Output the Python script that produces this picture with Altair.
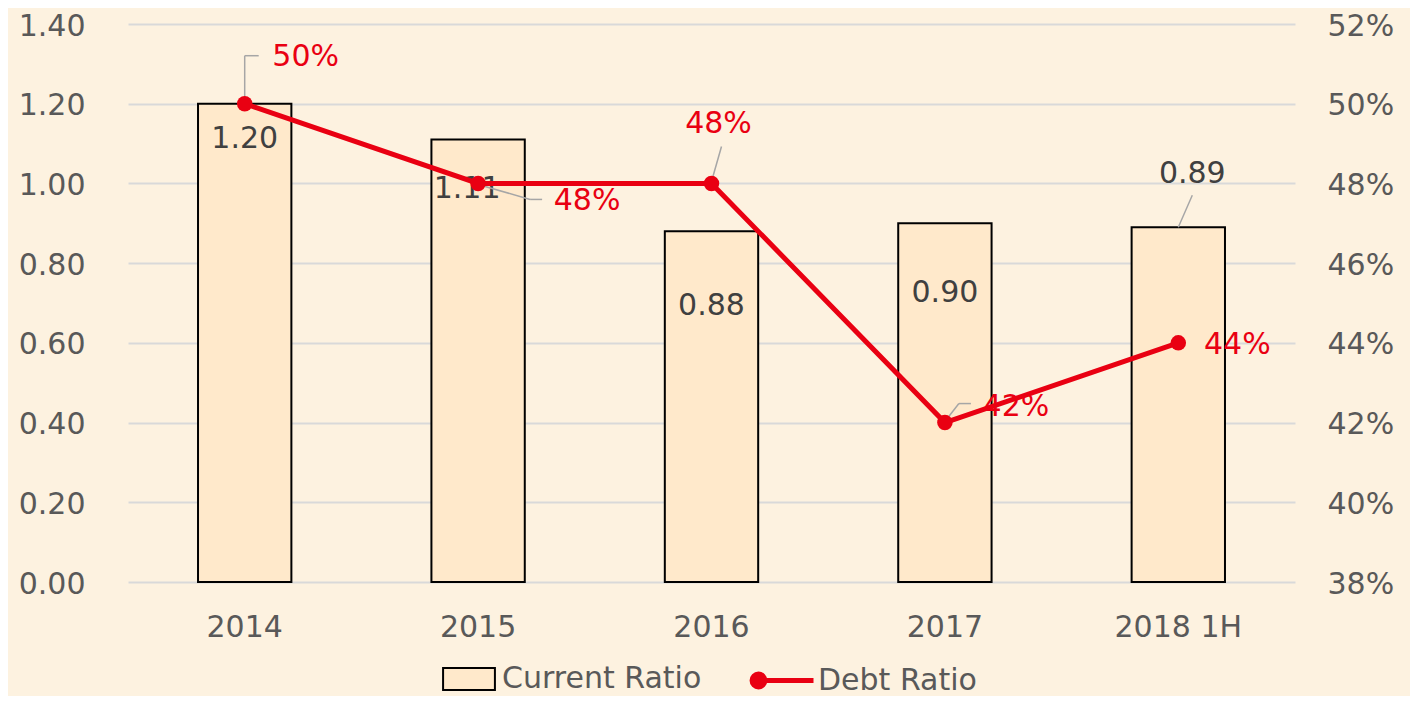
import altair as alt
import pandas as pd

# ---- data ----
categories = ["2014", "2015", "2016", "2017", "2018 1H"]
current_ratio = [1.20, 1.11, 0.88, 0.90, 0.89]
debt_ratio = [0.50, 0.48, 0.48, 0.42, 0.44]
current_labels = ["1.20", "1.11", "0.88", "0.90", "0.89"]
debt_labels = ["50%", "48%", "48%", "42%", "44%"]
left_ticks = [0.0, 0.2, 0.4, 0.6, 0.8, 1.0, 1.2, 1.4]
right_ticks = [0.38, 0.40, 0.42, 0.44, 0.46, 0.48, 0.50, 0.52]
series_names = ["Current Ratio", "Debt Ratio"]

df = pd.DataFrame({
    "cat": categories,
    "current": current_ratio,
    "debt": debt_ratio,
    "clabel": current_labels,
    "dlabel": debt_labels,
    "s_bar": series_names[0],
    "s_line": series_names[1],
})

FONT = "DejaVu Sans"
RED = "#E90012"
BAR_FILL = "#FFE9CB"
AXIS_GRAY = "#595959"
LABEL_GRAY = "#404040"
LEADER = "#A6A6A6"

base = alt.Chart(df)

x_enc = alt.X("cat:N", sort=categories,
              scale=alt.Scale(paddingInner=0.6, paddingOuter=0.3),
              axis=alt.Axis(title=None, labelAngle=0, labelFontSize=30, labelFont=FONT,
                            labelColor=AXIS_GRAY, ticks=False, tickSize=0, domain=False,
                            labelPadding=30, grid=False))
x2_enc = alt.X2("cat:N")

yl = alt.Y("current:Q", scale=alt.Scale(domain=[0, 1.4], nice=False, zero=True),
           axis=alt.Axis(title=None, values=left_ticks, format=".2f", labelFontSize=30,
                         labelFont=FONT, labelColor=AXIS_GRAY, ticks=False, tickSize=0,
                         domain=False, labelPadding=43, labelOffset=2, grid=True,
                         gridColor="#D9D9D9", gridWidth=2, orient="left"))
yl2 = alt.Y2("current:Q")

yr = alt.Y("debt:Q", scale=alt.Scale(domain=[0.38, 0.52], nice=False, zero=False),
           axis=alt.Axis(title=None, values=right_ticks, format=".0%", labelFontSize=30,
                         labelFont=FONT, labelColor=AXIS_GRAY, ticks=False, tickSize=0,
                         domain=False, labelPadding=32, labelOffset=2, grid=False,
                         orient="right"))
yr2 = alt.Y2("debt:Q")

bar_legend = alt.Legend(
    title=None, orient="none", legendX=308, legendY=622, direction="horizontal",
    symbolSize=4096, symbolType="M-0.81,-0.34H0.81V0.34H-0.81Z",
    symbolStrokeColor="#000000", symbolStrokeWidth=2, symbolFillColor=BAR_FILL,
    symbolOpacity=1, labelLimit=400,
    labelFontSize=30, labelFont=FONT, labelColor=AXIS_GRAY, labelOffset=0, padding=0,
)
line_legend = alt.Legend(
    title=None, orient="none", legendX=619, legendY=622, direction="horizontal",
    symbolSize=4096,
    symbolType="M-0.92,0A0.2,0.2 0 1,1 -0.52,0A0.2,0.2 0 1,1 -0.92,0ZM-0.72,0H1",
    symbolStrokeColor=RED, symbolStrokeWidth=5, symbolFillColor=RED, symbolOpacity=1,
    labelLimit=400,
    labelFontSize=30, labelFont=FONT, labelColor=AXIS_GRAY, labelOffset=2, padding=0,
)

# ---- left (bars) ----
bars = base.mark_bar(stroke="black", strokeWidth=2, opacity=1).encode(
    x=x_enc, y=yl,
    fill=alt.Fill("s_bar:N", scale=alt.Scale(domain=[series_names[0]], range=[BAR_FILL]),
                  legend=bar_legend),
)

bar_label_offsets = {
    "2014": (0, 35),
    "2015": (-11, 49),
    "2016": (0, 75),
    "2017": (0, 70),
    "2018 1H": (14, -53),
}
bar_labels = [
    base.transform_filter(alt.datum.cat == c).mark_text(
        dx=dx, dy=dy, fontSize=30, font=FONT, color=LABEL_GRAY, baseline="middle", align="center"
    ).encode(x=x_enc, y=yl, text="clabel:N")
    for c, (dx, dy) in bar_label_offsets.items()
]

bar_leader = base.transform_filter(alt.datum.cat == "2018 1H").mark_rule(
    color=LEADER, strokeWidth=1.5, xOffset=0, yOffset=0, x2Offset=14, y2Offset=-32
).encode(x=x_enc, x2=x2_enc, y=yl, y2=yl2)

left = alt.layer(bars, *bar_labels, bar_leader)

# ---- right (debt ratio) ----
line = base.mark_line(strokeWidth=5).encode(
    x=x_enc, y=yr,
    stroke=alt.Stroke("s_line:N", scale=alt.Scale(domain=[series_names[1]], range=[RED]),
                      legend=line_legend),
)
points = base.mark_circle(size=240, opacity=1, color=RED).encode(x=x_enc, y=yr)

debt_label_offsets = {
    "2014": (61, -47),
    "2015": (109, 18),
    "2016": (7, -59),
    "2017": (71, -16),
    "2018 1H": (59, 2),
}
debt_text = [
    base.transform_filter(alt.datum.cat == c).mark_text(
        dx=dx, dy=dy, fontSize=30, font=FONT, color=RED, baseline="middle", align="center"
    ).encode(x=x_enc, y=yr, text="dlabel:N")
    for c, (dx, dy) in debt_label_offsets.items()
]

leader_segments = [
    ("2014", 0, -2, 0, -48),
    ("2014", 0, -48, 14, -48),
    ("2015", 0, 1, 52, 16),
    ("2015", 52, 16, 64, 16),
    ("2016", 0, -2, 10, -37),
    ("2017", 0, -1, 14, -19),
    ("2017", 14, -19, 26, -19),
]
debt_leaders = [
    base.transform_filter(alt.datum.cat == c).mark_rule(
        color=LEADER, strokeWidth=1.5, xOffset=xo, yOffset=yo, x2Offset=x2o, y2Offset=y2o
    ).encode(x=x_enc, x2=x2_enc, y=yr, y2=yr2)
    for c, xo, yo, x2o, y2o in leader_segments
]

right = alt.layer(*debt_leaders, line, points, *debt_text)

chart = alt.layer(left, right).resolve_scale(y="independent").properties(
    width=1167, height=558,
    autosize=alt.AutoSizeParams(type="none"),
    padding={"left": 120, "top": 16, "right": 115, "bottom": 114},
    background="#FDF2E0",
).configure_view(stroke="transparent")

chart.save("out.html", embed_options={"renderer": "svg", "actions": False})
